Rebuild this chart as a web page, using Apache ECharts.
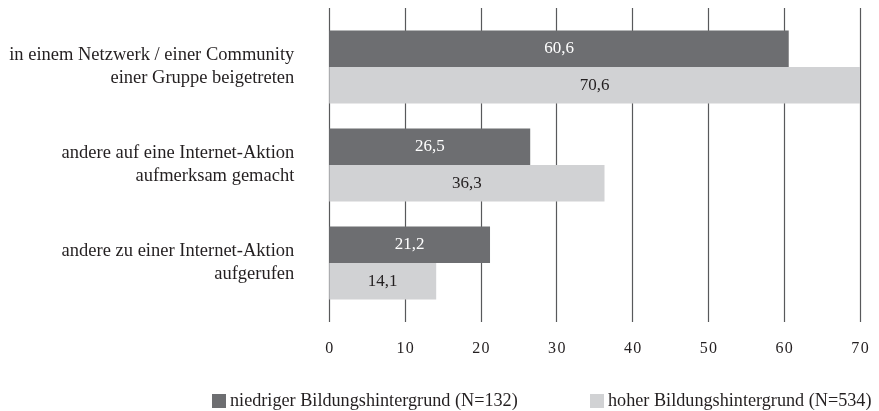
<!DOCTYPE html>
<html>
<head>
<meta charset="utf-8">
<script src="https://cdn.jsdelivr.net/npm/echarts@6/dist/echarts.min.js"></script>
<style>
  html, body { margin: 0; padding: 0; background: #fff; }
  #chart { width: 879px; height: 411px; }
</style>
</head>
<body>
<div id="chart"></div>
<script>
// Activities on the internet, by educational background (in %)
const categories = [
  'in einem Netzwerk / einer Community\neiner Gruppe beigetreten',
  'andere auf eine Internet-Aktion\naufmerksam gemacht',
  'andere zu einer Internet-Aktion\naufgerufen'
];
const seriesNames = [
  'niedriger Bildungshintergrund (N=132)',
  'hoher Bildungshintergrund (N=534)'
];
const lowEducation = [60.6, 26.5, 21.2];
const highEducation = [70.6, 36.3, 14.1];
const xTicks = [0, 10, 20, 30, 40, 50, 60, 70];

const FONT = '"Liberation Serif", "DejaVu Serif", serif';
const DARK = '#6d6e71';
const LIGHT = '#d1d2d4';
const INK = '#231f20';
const fmt = v => String(v).replace('.', ',');

const chart = echarts.init(document.getElementById('chart'), null, { renderer: 'canvas' });

chart.setOption({
  animation: false,
  backgroundColor: '#ffffff',
  textStyle: { fontFamily: FONT },
  grid: [
    // frame for the vertical grid lines and the value labels
    { left: 329.3, right: 19, top: 8, bottom: 89 },
    // frame for the bars and category labels
    { left: 329.3, right: 19, top: 18, bottom: 99 }
  ],
  xAxis: [
    {
      gridIndex: 0, type: 'value', min: xTicks[0], max: xTicks[xTicks.length - 1], interval: 10,
      axisLine: { show: false }, axisTick: { show: false },
      splitLine: { show: true, lineStyle: { color: '#58595b', width: 1.2 } },
      axisLabel: {
        margin: 19, color: INK, fontFamily: FONT, fontSize: 16,
        formatter: v => xTicks.includes(v) ? String(v).split('').join('\u200a') : ''
      }
    },
    {
      gridIndex: 1, type: 'value', min: 0, max: 70, show: false
    }
  ],
  yAxis: [
    { gridIndex: 0, type: 'category', data: categories, show: false },
    {
      gridIndex: 1, type: 'category', data: categories, inverse: true,
      axisLine: { show: false }, axisTick: { show: false },
      axisLabel: {
        margin: 35, color: INK, fontFamily: FONT, fontSize: 18.5,
        lineHeight: 23, align: 'right', padding: [0, 0, 8, 0]
      }
    }
  ],
  legend: [
    {
      data: [seriesNames[0]], left: 207, top: 387,
      icon: 'rect', itemWidth: 14, itemHeight: 14, itemGap: 4,
      textStyle: { fontFamily: FONT, fontSize: 18.2, color: INK, padding: [0, 0, 0, -1] }
    },
    {
      data: [seriesNames[1]], left: 585, top: 387,
      icon: 'rect', itemWidth: 14, itemHeight: 14, itemGap: 4,
      textStyle: { fontFamily: FONT, fontSize: 18.2, color: INK, padding: [0, 0, 0, -1] }
    }
  ],
  series: [
    {
      name: seriesNames[0], type: 'bar', xAxisIndex: 1, yAxisIndex: 1,
      data: lowEducation, barWidth: 36.5, barGap: '0%',
      itemStyle: { color: DARK },
      label: {
        show: true, position: 'inside', color: '#ffffff',
        fontFamily: FONT, fontSize: 17, formatter: p => fmt(p.value)
      }
    },
    {
      name: seriesNames[1], type: 'bar', xAxisIndex: 1, yAxisIndex: 1,
      data: highEducation, barWidth: 36.5, barGap: '0%',
      itemStyle: { color: LIGHT },
      label: {
        show: true, position: 'inside', color: INK,
        fontFamily: FONT, fontSize: 17, formatter: p => fmt(p.value)
      }
    }
  ]
});
</script>
</body>
</html>
